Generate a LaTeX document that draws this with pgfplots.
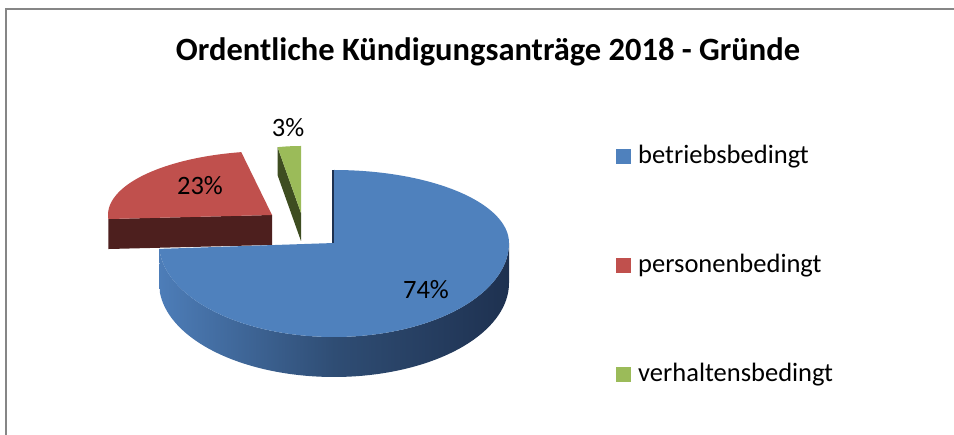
\documentclass[border=0pt]{standalone}
\usepackage{pgfplots}
\pgfplotsset{compat=1.18}
\usepackage{pgfplotstable}
\usepackage{fontspec}
\setmainfont{Carlito}

\definecolor{cBlue}{HTML}{4F81BD}
\definecolor{cBlueL}{HTML}{4D7DB8}
\definecolor{cBlueM}{HTML}{2F4D74}
\definecolor{cBlueD}{HTML}{1E3150}
\definecolor{cRed}{HTML}{C0504D}
\definecolor{cRedD}{HTML}{4D1F1E}
\definecolor{cGreen}{HTML}{9BBB59}
\definecolor{cGreenD}{HTML}{3E4D21}
\definecolor{cFrame}{HTML}{868686}

\pgfplotstableread{
label value
betriebsbedingt 74
personenbedingt 23
verhaltensbedingt 3
}\piedata

\pgfplotstablegetelem{0}{value}\of\piedata \edef\vA{\pgfplotsretval}
\pgfplotstablegetelem{1}{value}\of\piedata \edef\vB{\pgfplotsretval}
\pgfplotstablegetelem{2}{value}\of\piedata \edef\vC{\pgfplotsretval}
\pgfmathsetmacro\vT{\vA+\vB+\vC}
\pgfmathsetmacro\tA{0}
\pgfmathsetmacro\tB{\tA+360*(\vA/\vT)}
\pgfmathsetmacro\tC{\tB+360*(\vB/\vT)}
\pgfmathsetmacro\tD{360}

% slice geometry (pixel units, y downwards)
\def\bVx{334}\def\bVy{243}\def\bA{175}\def\bBk{73}\def\bBf{94}\def\bD{40}
\def\rVx{272}\def\rVy{215}\def\rA{164}\def\rB{64}\def\rD{30}
\def\gVx{301}\def\gVy{213}\def\gA{125}\def\gB{67}\def\gD{28}

\begin{document}
\begin{tikzpicture}
\begin{axis}[
  width=954pt, height=435pt, scale only axis,
  xmin=0, xmax=954, ymin=0, ymax=435, y dir=reverse,
  hide axis, clip=true,
  axis background/.style={fill=white},
  declare function={
    cl(\t)=min(max(\t,0),1);
    on(\t)=(\t>(-0.05))*(\t<1.05);
    thb(\t)=(\t<1.0001)?(90+(\tB-90)*\t):(\tB-(\tB-90)*(\t-1));
    bb(\a)=(cos(\a)>0)?\bBk:\bBf;
  },
  legend image code/.code={\fill[#1, draw=none] (0pt,-7.5pt) rectangle (15pt,7.5pt);},
  legend style={at={(axis description cs:0.6426,0.674)}, anchor=north west,
    draw=none, fill=none, font=\fontsize{26.5}{30}\selectfont,
    row sep=84pt, nodes={inner sep=0pt, text height=19pt, text depth=6pt},
    /tikz/every odd column/.style={column sep=7pt}},
  legend cell align=left,
]
% frame
\addplot[forget plot, draw=cFrame, line width=1.5pt] coordinates {(6,445) (6,9) (970,9)};

% red slice (back)
\addplot[forget plot, fill=cRedD, draw=none, variable=\t, samples at={0,1,2,3}]
  ({\rVx + ((\t>0.5)*(\t<2.5))*\rA*sin(\tB)},
   {\rVy - ((\t>0.5)*(\t<2.5))*\rB*cos(\tB) + (\t>1.5)*\rD});
\addplot[forget plot, fill=cRed, draw=none, variable=\t, domain=-0.1:1.1, samples=241]
  ({\rVx + on(\t)*\rA*sin(\tB+(\tC-\tB)*cl(\t))},
   {\rVy - on(\t)*\rB*cos(\tB+(\tC-\tB)*cl(\t))});

% green slice
\addplot[forget plot, fill=cGreenD, draw=none, variable=\t, samples at={0,1,2,3}]
  ({\gVx + ((\t>0.5)*(\t<2.5))*\gA*sin(\tC)},
   {\gVy - ((\t>0.5)*(\t<2.5))*\gB*cos(\tC) + (\t>1.5)*\gD});
\addplot[forget plot, fill=cGreen, draw=none, variable=\t, domain=-0.1:1.1, samples=121]
  ({\gVx + on(\t)*\gA*sin(\tC+(\tD-\tC)*cl(\t))},
   {\gVy - on(\t)*\gB*cos(\tC+(\tD-\tC)*cl(\t))});

% blue slice (front)
\addplot[forget plot, draw=none, left color=cBlueL, right color=cBlueD, middle color=cBlueM,
  variable=\t, domain=0:2, samples=201]
  ({\bVx + \bA*sin(thb(\t))},
   {\bVy - bb(thb(\t))*cos(thb(\t)) + (\t>1.0001)*\bD});
\addplot[forget plot, draw=cBlueD, line width=1.5pt, variable=\t, samples at={0,1}]
  ({\bVx-1}, {\bVy - \t*\bBk});
\addplot[forget plot, fill=cBlue, draw=none, variable=\t, domain=-0.1:1.1, samples=361]
  ({\bVx + on(\t)*\bA*sin(\tA+(\tB-\tA)*cl(\t))},
   {\bVy - on(\t)*bb(\tA+(\tB-\tA)*cl(\t))*cos(\tA+(\tB-\tA)*cl(\t))});

% white strip at the open right edge
\addplot[forget plot, fill=white, draw=none] coordinates {(930,11) (960,11) (960,445) (930,445)};

% legend
\addlegendimage{fill=cBlue}\addlegendentry{betriebsbedingt}
\addlegendimage{fill=cRed}\addlegendentry{personenbedingt}
\addlegendimage{fill=cGreen}\addlegendentry{verhaltensbedingt}

% labels
\node[font=\fontsize{32.5}{38}\selectfont\bfseries, anchor=base] at (axis cs:488,61)
  {Ordentliche Kündigungsanträge 2018 - Gründe};
\node[font=\fontsize{26.5}{30}\selectfont] at (axis cs:426,290) {\vA\%};
\node[font=\fontsize{26.5}{30}\selectfont] at (axis cs:200,186) {\vB\%};
\node[font=\fontsize{26.5}{30}\selectfont] at (axis cs:288,128) {\vC\%};
\end{axis}
\pgfresetboundingbox
\path[use as bounding box] (current axis.south west) rectangle (current axis.north east);
\end{tikzpicture}
\end{document}
